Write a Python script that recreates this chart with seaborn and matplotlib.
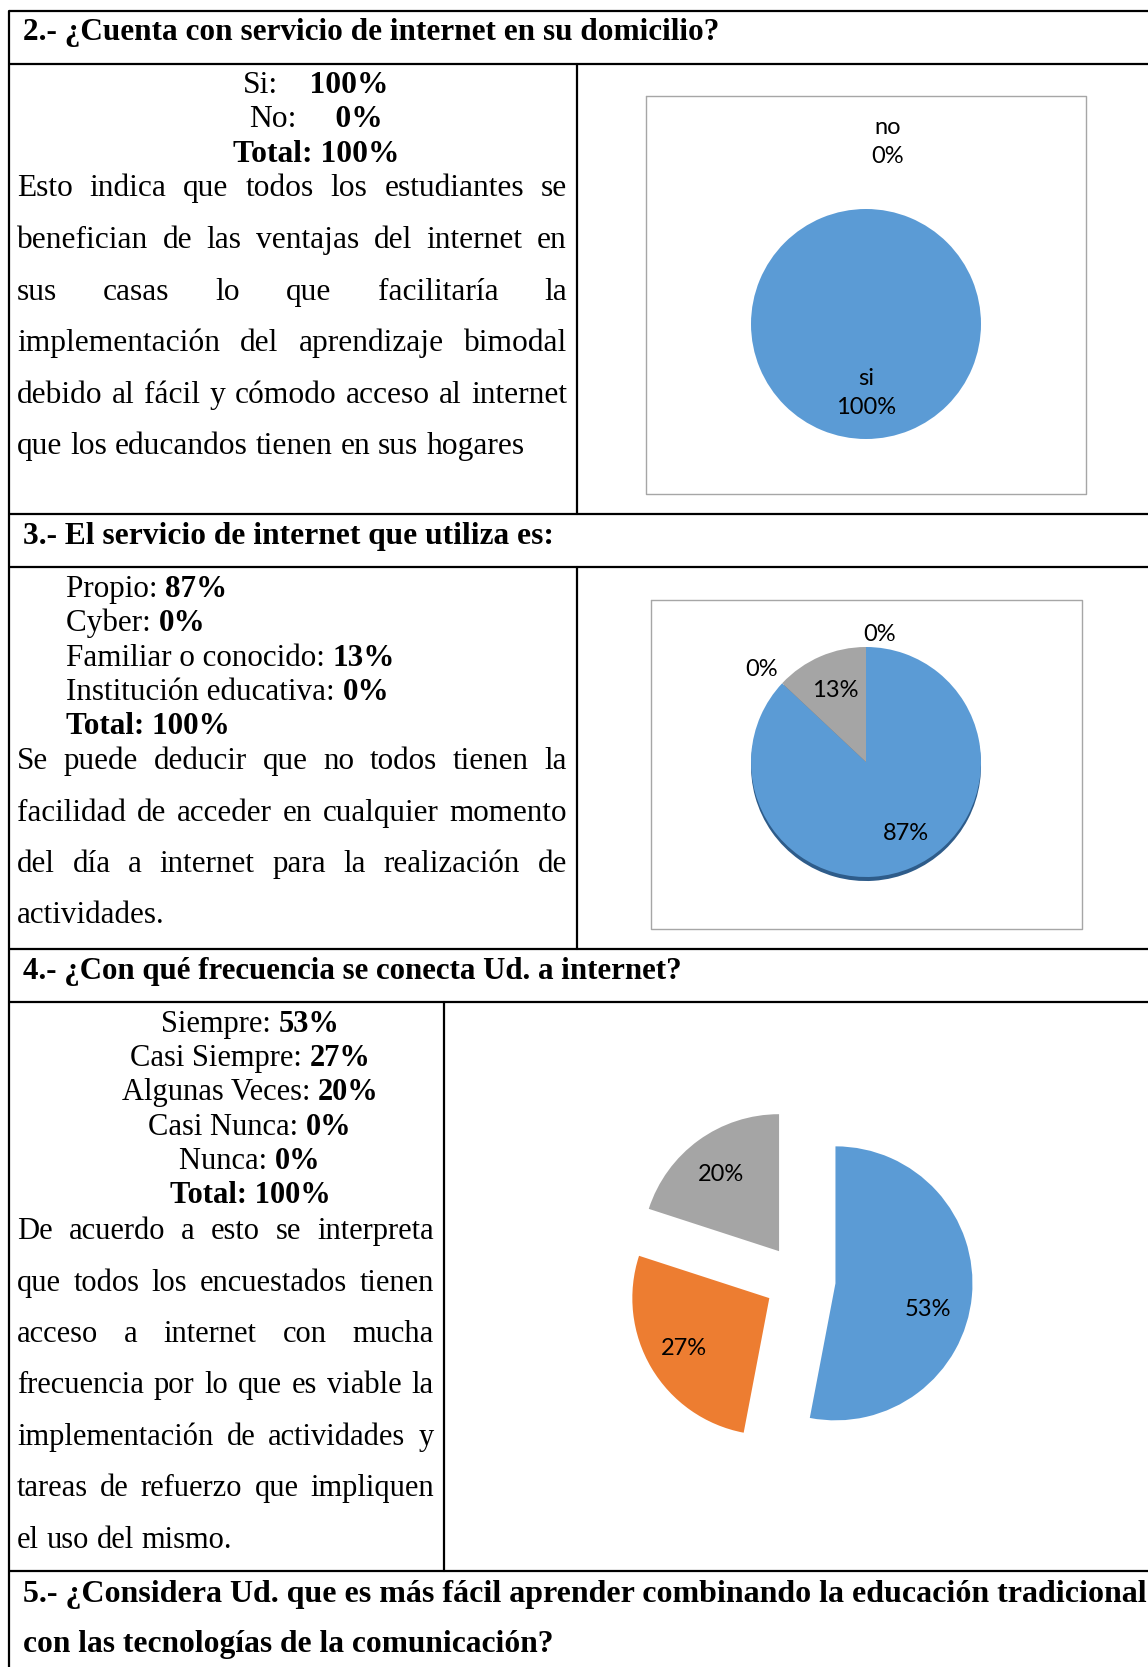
import matplotlib
matplotlib.use("Agg")
import matplotlib.pyplot as plt
import seaborn as sns
import numpy as np

# ── Data ──────────────────────────────────────────────────────────────────────
q2_labels = ["si", "no"]
q2_text_labels = ["Si", "No"]
q2_values = [100, 0]

q3_labels = ["Propio", "Cyber", "Familiar o conocido", "Institución educativa"]
q3_values = [87, 0, 13, 0]

q4_labels = ["Siempre", "Casi Siempre", "Algunas Veces", "Casi Nunca", "Nunca"]
q4_values = [53, 27, 20, 0, 0]

headers = [
    "2.- ¿Cuenta con servicio de internet en su domicilio?",
    "3.- El servicio de internet que utiliza es:",
    "4.- ¿Con qué frecuencia se conecta Ud. a internet?",
    "5.- ¿Considera Ud. que es más fácil aprender combinando la educación tradicional",
    "con las tecnologías de la comunicación?",
]

para2 = ["Esto indica que todos los estudiantes se",
         "benefician de las ventajas del internet en",
         "sus casas lo que facilitaría la",
         "implementación del aprendizaje bimodal",
         "debido al fácil y cómodo acceso al internet",
         "que los educandos tienen en sus hogares"]
para3 = ["Se puede deducir que no todos tienen la",
         "facilidad de acceder en cualquier momento",
         "del día a internet para la realización de",
         "actividades."]
para4 = ["De acuerdo a esto se interpreta",
         "que todos los encuestados tienen",
         "acceso a internet con mucha",
         "frecuencia por lo que es viable la",
         "implementación de actividades y",
         "tareas de refuerzo que impliquen",
         "el uso del mismo."]

# ── Style ─────────────────────────────────────────────────────────────────────
sns.set_theme(style="white")
PALETTE = sns.color_palette(["#5B9BD5", "#ED7D31", "#A5A5A5", "#FFC000", "#4472C4"])
SHADOW = sns.color_palette(["#2E5C8A", "#9C4F1C", "#6E6E6E", "#A07800", "#2B4C85"])
SERIF = "Liberation Serif"
LABEL_FONT = "Lato"

W, H = 1148, 1667
fig = plt.figure(figsize=(W / 100, H / 100), dpi=100)
fig.patch.set_facecolor("white")
page = fig.add_axes([0, 0, 1, 1])
page.set_xlim(0, W)
page.set_ylim(H, 0)
page.axis("off")
renderer = fig.canvas.get_renderer()


def width(s, size, weight="normal"):
    kw = dict(fontsize=size, family=SERIF, fontweight=weight)
    t1 = page.text(0, 0, "x" + s + "x", **kw)
    t2 = page.text(0, 0, "xx", **kw)
    w = t1.get_window_extent(renderer).width - t2.get_window_extent(renderer).width
    t1.remove()
    t2.remove()
    return w


def fit(s, target, weight="normal"):
    return 20 * target / width(s, 20, weight)


def baseline(yc, size):
    return yc + 0.33 * size * 100 / 72


def runs(x, yc, parts, size, ha="left"):
    ws = [width(s, size, wt) for s, wt in parts]
    if ha == "center":
        x -= sum(ws) / 2
    y = baseline(yc, size)
    for (s, wt), w in zip(parts, ws):
        page.text(x, y, s, fontsize=size, family=SERIF, fontweight=wt,
                  va="baseline", ha="left", color="black")
        x += w


def paragraph(lines, x0, x1, ys, size):
    sp = width(" ", size)
    for i, (line, yc) in enumerate(zip(lines, ys)):
        words = line.split()
        ws = [width(w, size) for w in words]
        last = i == len(lines) - 1
        gap = sp if last else (x1 - x0 - sum(ws)) / max(len(words) - 1, 1)
        x = x0
        for w, wd in zip(words, ws):
            page.text(x, baseline(yc, size), w, fontsize=size, family=SERIF,
                      va="baseline", ha="left", color="black")
            x += wd + gap


def header(s, yc, target):
    size = fit(s, target, "bold")
    page.text(23, baseline(yc, size), s, fontsize=size, family=SERIF,
              fontweight="bold", va="baseline", ha="left", color="black")


# ── Table grid ────────────────────────────────────────────────────────────────
for y in [11, 64, 514, 567, 949, 1002, 1571]:
    page.plot([8.5, W], [y, y], color="black", lw=1.6, solid_capstyle="butt")
page.plot([8.5, 8.5], [11, H], color="black", lw=1.6)
page.plot([577, 577], [64, 514], color="black", lw=1.6)
page.plot([577, 577], [567, 949], color="black", lw=1.6)
page.plot([444, 444], [1002, 1571], color="black", lw=1.6)

# ── Headers ───────────────────────────────────────────────────────────────────
header(headers[0], 30, 696)
header(headers[1], 534, 529)
header(headers[2], 969, 658)
header(headers[3], 1591, 1123)
header(headers[4], 1642, 530)

# ── Section 2 text ────────────────────────────────────────────────────────────
s2 = fit(para2[-1], 507)
gaps2 = ["    ", "     "]
for lab, val, gap, yc in zip(q2_text_labels, q2_values, gaps2, [83, 117]):
    runs(316, yc, [(f"{lab}:", "normal"), (f"{gap}{val}%", "bold")], s2, ha="center")
runs(316, 152, [(f"Total: {sum(q2_values)}%", "bold")], s2, ha="center")
paragraph(para2, 17, 567, [186, 238, 290, 341, 393, 444], s2)

# ── Section 3 text ────────────────────────────────────────────────────────────
s3 = fit(para3[-1], 148)
for lab, val, yc in zip(q3_labels, q3_values, [587, 621, 656, 690]):
    runs(66, yc, [(f"{lab}: ", "normal"), (f"{val}%", "bold")], s3)
runs(66, 724, [(f"Total: {sum(q3_values)}%", "bold")], s3)
paragraph(para3, 17, 567, [759, 811, 862, 913], s3)

# ── Section 4 text ────────────────────────────────────────────────────────────
s4 = fit(para4[-1], 216)
for lab, val, yc in zip(q4_labels, q4_values, [1022, 1056, 1090, 1125, 1159]):
    runs(250, yc, [(f"{lab}: ", "normal"), (f"{val}%", "bold")], s4, ha="center")
runs(250, 1193, [(f"Total: {sum(q4_values)}%", "bold")], s4, ha="center")
paragraph(para4, 17, 434, [1229, 1281, 1332, 1383, 1435, 1486, 1538], s4)


# ── Pie charts ────────────────────────────────────────────────────────────────
def pie_axes(cx, cy, r, half=1.8):
    ax = fig.add_axes([(cx - half * r) / W, 1 - (cy + half * r) / H,
                       2 * half * r / W, 2 * half * r / H])
    ax.axis("off")
    return ax, half


def label_wedges(ax, wedges, texts, dists, nudges=None, size=17):
    nudges = nudges or [(0, 0)] * len(texts)
    for w, s, d, (dx, dy) in zip(wedges, texts, dists, nudges):
        if s is None:
            continue
        th = np.deg2rad((w.theta1 + w.theta2) / 2)
        cx, cy = w.center
        ax.text(cx + d * np.cos(th) + dx, cy + d * np.sin(th) + dy, s,
                ha="center", va="center", fontsize=size, family=LABEL_FONT,
                color="black", linespacing=1.45)


def frame(x0, y0, x1, y1):
    page.plot([x0, x1, x1, x0, x0], [y0, y0, y1, y1, y0], color="#A6A6A6", lw=1.0)


# Q2
frame(646, 96, 1086, 494)
ax, half = pie_axes(866, 324, 115)
wedges, _ = ax.pie(q2_values, colors=PALETTE[:2], startangle=90, counterclock=False,
                   wedgeprops=dict(linewidth=0))
label_wedges(ax, wedges, [f"{l}\n{v}%" for l, v in zip(q2_labels, q2_values)],
             [0.6 if v else 1.6 for v in q2_values],
             [(0, 0) if v else (0.19, -0.02) for v in q2_values])
ax.set_xlim(-half, half)
ax.set_ylim(-half, half)

# Q3
frame(651, 600, 1082, 929)
ax, half = pie_axes(866, 762, 115)
ax.pie(q3_values, colors=SHADOW[:4], startangle=90, counterclock=False, center=(0, -0.035),
       wedgeprops=dict(linewidth=0))
wedges, _ = ax.pie(q3_values, colors=PALETTE[:4], startangle=90, counterclock=False,
                   wedgeprops=dict(linewidth=0))
label_wedges(ax, wedges, [f"{v}%" for v in q3_values],
             [0.68, 1.18, 0.68, 1.11],
             [(0.08, 0), (-0.05, 0), (0, 0), (0.12, 0)])
ax.set_xlim(-half, half)
ax.set_ylim(-half, half)

# Q4
ax, half = pie_axes(800, 1280, 137)
wedges, _ = ax.pie(q4_values, colors=PALETTE[:5], startangle=90, counterclock=False,
                   explode=[0.26] * len(q4_values), wedgeprops=dict(linewidth=0))
label_wedges(ax, wedges, [f"{v}%" if v else None for v in q4_values],
             [0.72] * len(q4_values),
             [(-0.04, -0.12), (0, 0), (0, -0.02), (0, 0), (0, 0)])
ax.set_xlim(-half, half)
ax.set_ylim(-half, half)

fig.savefig("out.png", dpi=100)
